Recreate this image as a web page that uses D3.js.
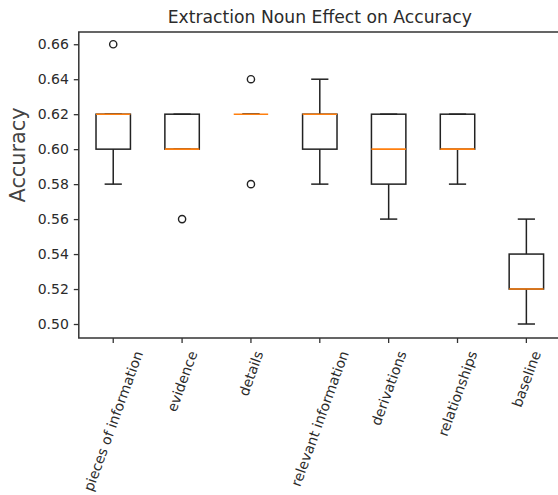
<!DOCTYPE html>
<html>
<head>
    <title>Extraction Noun Effect on Accuracy</title>
</head>
<body style="margin:0">
<style type="text/css">
    #renderer {
        width: 558px;
        height: 495px;
        background: #fff;
        display: block;
    }
    text { font-family: "DejaVu Sans", sans-serif; fill: #2b2b2b; }
</style>
<script type="text/javascript" src="https://cdnjs.cloudflare.com/ajax/libs/d3/7.8.5/d3.min.js"></script>
<svg id='renderer'></svg>

<script type="text/javascript">
    // 1. data
    var categories = ['pieces of information', 'evidence', 'details', 'relevant information',
                      'derivations', 'relationships', 'baseline'];
    var whisker_low  = [0.58, 0.60, 0.62, 0.58, 0.56, 0.58, 0.50];
    var quartile_1   = [0.60, 0.60, 0.62, 0.60, 0.58, 0.60, 0.52];
    var medians      = [0.62, 0.60, 0.62, 0.62, 0.60, 0.60, 0.52];
    var quartile_3   = [0.62, 0.62, 0.62, 0.62, 0.62, 0.62, 0.54];
    var whisker_high = [0.62, 0.62, 0.62, 0.64, 0.62, 0.62, 0.56];
    var outliers     = [[0.66], [0.56], [0.64, 0.58], [], [], [], []];
    var y_ticks = [0.50, 0.52, 0.54, 0.56, 0.58, 0.60, 0.62, 0.64, 0.66];

    // 2. layout
    var plot_left = 78.8, plot_right = 560.8, plot_top = 32, plot_bottom = 338;
    var root = d3.select('#renderer');

    var x = d3.scaleBand().domain(categories).range([plot_left, plot_right]).padding(0);
    var y = d3.scaleLinear().domain([0.492, 0.667]).range([plot_bottom, plot_top]);
    var box_w = x.bandwidth() * 0.5;
    var cap_w = box_w * 0.5;
    var cx = function (i) { return x(categories[i]) + x.bandwidth() / 2; };

    // axes
    var yAxis = root.append('g')
        .attr('transform', 'translate(' + plot_left + ',0)')
        .call(d3.axisLeft(y).tickValues(y_ticks).tickFormat(d3.format('.2f')).tickSize(5).tickPadding(5));
    yAxis.select('.domain').remove();
    yAxis.selectAll('line').attr('stroke', '#333').attr('stroke-width', 1.3);
    yAxis.selectAll('text').style('font-size', '14px');

    var xAxis = root.append('g')
        .attr('transform', 'translate(0,' + plot_bottom + ')')
        .call(d3.axisBottom(x).tickSize(5));
    xAxis.select('.domain').remove();
    xAxis.selectAll('line').attr('stroke', '#333').attr('stroke-width', 1.3);
    var ang = 70 * Math.PI / 180;
    xAxis.selectAll('text')
        .style('font-size', '14px')
        .attr('text-anchor', 'middle')
        .attr('dominant-baseline', 'central')
        .attr('y', null).attr('dy', null)
        .attr('transform', function () {
            var L = this.getComputedTextLength();
            var hh = L * Math.sin(ang) + 14 * Math.cos(ang);
            return 'translate(0,' + (11 + hh / 2) + ') rotate(-70)';
        });

    // spines
    root.append('rect')
        .attr('x', plot_left).attr('y', plot_top)
        .attr('width', plot_right - plot_left).attr('height', plot_bottom - plot_top)
        .attr('fill', 'none').attr('stroke', '#333').attr('stroke-width', 1.5);

    // boxes
    var g = root.append('g');
    for (var i = 0; i < categories.length; i++) {
        var c = cx(i);
        // whiskers
        g.append('line').attr('x1', c).attr('x2', c)
            .attr('y1', y(whisker_low[i])).attr('y2', y(quartile_1[i]))
            .attr('stroke', '#222').attr('stroke-width', 1.5);
        g.append('line').attr('x1', c).attr('x2', c)
            .attr('y1', y(quartile_3[i])).attr('y2', y(whisker_high[i]))
            .attr('stroke', '#222').attr('stroke-width', 1.5);
        // caps
        [whisker_low[i], whisker_high[i]].forEach(function (v) {
            g.append('line').attr('x1', c - cap_w / 2).attr('x2', c + cap_w / 2)
                .attr('y1', y(v)).attr('y2', y(v))
                .attr('stroke', '#222').attr('stroke-width', 1.5);
        });
        // box
        g.append('rect')
            .attr('x', c - box_w / 2).attr('width', box_w)
            .attr('y', y(quartile_3[i])).attr('height', y(quartile_1[i]) - y(quartile_3[i]))
            .attr('fill', 'none').attr('stroke', '#222').attr('stroke-width', 1.5);
        // median
        g.append('line').attr('x1', c - box_w / 2).attr('x2', c + box_w / 2)
            .attr('y1', y(medians[i])).attr('y2', y(medians[i]))
            .attr('stroke', '#ff7f0e').attr('stroke-width', 1.6);
        // fliers
        outliers[i].forEach(function (v) {
            g.append('circle').attr('cx', c).attr('cy', y(v)).attr('r', 3.6)
                .attr('fill', 'none').attr('stroke', '#222').attr('stroke-width', 1.4);
        });
    }

    // title and labels
    root.append('text')
        .attr('x', (plot_left + plot_right) / 2).attr('y', 23)
        .attr('text-anchor', 'middle')
        .style('font-size', '17.2px')
        .text('Extraction Noun Effect on Accuracy');

    root.append('text')
        .attr('transform', 'translate(25,155) rotate(-90)')
        .attr('text-anchor', 'middle')
        .style('font-size', '20.8px')
        .style('fill', '#444')
        .text('Accuracy');
</script>
</body>
</html>
